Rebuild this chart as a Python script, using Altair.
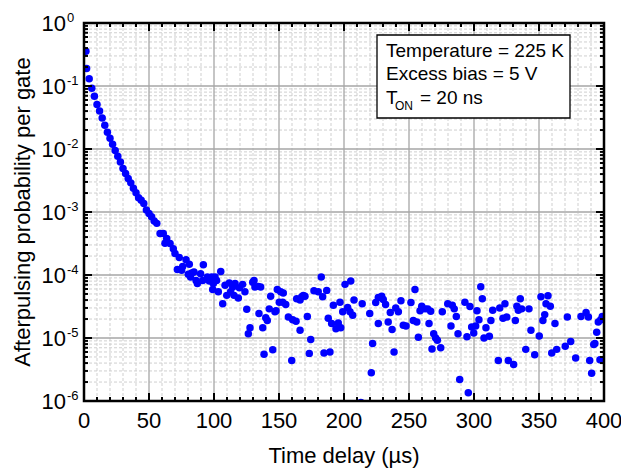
import altair as alt
import pandas as pd

FONT = "Liberation Sans"

# ---- data ----
delay_us = [
    1.5, 2, 4, 6, 8, 10, 12, 14, 16, 18, 20, 22, 24, 26, 28, 30, 32, 34, 36, 38,
    40, 42, 44, 46, 48, 50, 52, 54, 56,
    58.5, 61, 62.3, 63.6, 66.2, 68.7, 70, 71.8, 73.3, 75.1, 75.9, 78.5, 80.2, 81,
    82, 82.8, 84.6, 86.2, 87.2, 89.7, 91.3, 91.8, 94.9, 96.4, 98.2, 99, 99.5,
    100.8, 102, 103.3, 105.2, 106.7, 108.5, 109.8, 111.8, 112.8, 114.4, 115.4,
    116.2, 118.7, 119.5, 122, 123.8, 125.2, 126.4, 127.7, 129.8, 130.8, 131.5,
    134.1, 134.6, 135.9, 137.5, 138.5, 139.8, 141, 142.5, 143.6, 145.2, 146.9,
    147.7, 148.7, 150.2, 151.3, 152.8, 153.3, 155.2, 157.2, 159.8, 160.5, 163.1,
    163.6, 166.2, 166.2, 167.5, 168.7, 170, 171.8, 173.3, 174.4, 176.9, 180.2,
    182.5, 183.6, 184.6, 186.7, 187.9, 189.2, 190.5, 191.8, 193.8, 195.6, 196.9,
    197.5, 199, 200.8, 202.8, 204.6, 205.2, 206.7, 207.7,
    213, 214, 219.8, 222, 221, 224.4, 226.4, 229, 230.2, 232, 226.4, 234, 235.6,
    237, 238.5, 239.8, 241.8, 243.8, 245.6, 247.7, 251.5, 254.6, 253.3, 256,
    257.2, 258.5, 259.8, 262.3, 264.4, 266.7, 265.4, 269, 270.5, 271.8, 267.7,
    274.4, 275.6, 279.8, 283.3, 284.8, 282.3, 286.4, 287.7, 289, 293, 294.6,
    295.6, 296.9, 298.2, 299.8, 301.3, 302.3, 303.8, 305.2, 306.4, 307.7, 309.2,
    311.8, 313, 314.4, 318.7, 319.8, 322.3, 323.8, 325.2, 326.4, 330.5, 331.8,
    333, 334.1, 335.6, 336.7, 339.8, 342.3, 343.8, 346.7, 350.2, 351.5, 353,
    354.4, 355.4, 356.9, 358.7, 359.8, 362.3, 363.6, 370.2, 371.8, 374.4, 378.2,
    382.3, 386.2, 388, 389, 390.5, 392.1, 393, 394.4, 395.6, 397.5, 398.7, 396.9,
]
afterpulse_prob = [
    0.355, 0.19, 0.13, 0.092, 0.069, 0.051, 0.040, 0.031, 0.0238, 0.0184, 0.0148,
    0.0119, 0.0095, 0.0077, 0.0062, 0.0049, 0.0041, 0.0034, 0.0029, 0.00238,
    0.00202, 0.00168, 0.00153, 0.00137, 0.00108, 0.00095, 0.00084, 0.00072, 0.00066,
    4.55e-4, 4.55e-4, 3.2e-4, 3.8e-4, 3.15e-4, 2.6e-4, 2.2e-4, 1.22e-4, 1.9e-4,
    1.19e-4, 1.37e-4, 1.75e-4, 1.03e-4, 1.48e-4, 9.3e-5, 1.08e-4, 1.12e-4, 8.2e-5,
    7.3e-5, 1.05e-4, 8.2e-5, 1.46e-4, 9.3e-5, 8.0e-5, 9.3e-5, 5.9e-5, 7.3e-5,
    9.3e-5, 8.2e-5, 5.4e-5, 1.14e-4, 3.5e-5, 6.9e-5, 4.75e-5, 7.5e-5, 5.4e-5,
    6.45e-5, 4.75e-5, 7.3e-5, 4.3e-5, 6.3e-5, 7.1e-5, 5.4e-5, 2.85e-5, 1.17e-5,
    1.45e-5, 7.7e-5, 8.2e-5, 6.45e-5, 6.6e-5, 2.45e-5, 6.45e-5, 1.46e-5, 5.5e-6,
    2.1e-5, 1.9e-5, 2.9e-5, 4.6e-5, 6.5e-6, 2.6e-5, 2.7e-5, 5.9e-5, 3.7e-5,
    5.4e-5, 3.7e-5, 5.2e-5, 3.4e-5, 2.15e-5, 4.4e-6, 1.95e-5, 1.85e-5, 4.2e-5,
    4.0e-5, 1.33e-5, 4.5e-5, 4.75e-5, 4.6e-5, 2.2e-5, 5.7e-6, 9.5e-6, 5.6e-5,
    5.4e-5, 9.3e-5, 4.5e-5, 5.8e-6, 5.7e-5, 2.05e-5, 6.0e-6, 1.7e-5, 3.3e-5,
    1.4e-5, 1.73e-5, 3.7e-5, 1.46e-5, 2.6e-5, 7.1e-5, 3.05e-5, 2.6e-5, 8.0e-5,
    2.3e-5, 4.0e-5,
    9.5e-7, 3.5e-5, 2.45e-5, 8.2e-6, 2.8e-6, 3.65e-5, 4.4e-5, 4.6e-5, 4.1e-5,
    3.4e-5, 1.7e-5, 1.8e-5, 2.55e-5, 1.37e-5, 6.0e-6, 3.0e-5, 2.6e-5, 3.9e-5,
    1.6e-5, 1.55e-5, 3.65e-5, 5.9e-5, 1.9e-5, 1.8e-5, 1.03e-5, 2.7e-5, 3.2e-5,
    2.9e-5, 2.9e-5, 2.65e-5, 1.7e-5, 1.17e-5, 1.0e-5, 9.2e-6, 6.7e-6, 7.0e-6,
    2.6e-5, 3.5e-5, 3.3e-5, 2.9e-5, 1.55e-5, 2.2e-5, 1.17e-5, 2.2e-6, 3.7e-5,
    1.05e-5, 1.35e-6, 3.15e-5, 1.5e-5, 1.2e-5, 1.55e-5, 2.7e-5, 1.95e-5, 6.5e-5,
    4.2e-5, 1.0e-5, 1.45e-5, 1.07e-5, 1.9e-5, 2.75e-5, 4.4e-6, 3.0e-5, 2.05e-5,
    3.5e-5, 2.15e-5, 4.4e-6, 3.8e-6, 1.9e-5, 3.2e-5, 2.75e-5, 4.2e-5, 2.9e-5,
    6.6e-6, 2.9e-5, 1.33e-5, 5.4e-6, 1.08e-5, 4.5e-5, 1.9e-5, 2.35e-5, 3.5e-5,
    4.7e-5, 3.2e-5, 5.8e-6, 1.7e-5, 6.6e-6, 7.4e-6, 2.15e-5, 8.8e-6, 4.8e-6,
    2.2e-5, 2.55e-5, 2.15e-5, 4.4e-6, 2.75e-6, 7.9e-6, 8.2e-6, 1.23e-5, 1.8e-5,
    1.95e-5, 2.2e-5, 4.5e-6,
]

x_major = [0, 50, 100, 150, 200, 250, 300, 350, 400]
x_minor = [v for v in range(0, 401, 10) if v % 50 != 0]
y_decades = [1, 1e-1, 1e-2, 1e-3, 1e-4, 1e-5, 1e-6]
y_exponents = ["0", "-1", "-2", "-3", "-4", "-5", "-6"]
y_minor = [m * 10.0 ** e for e in range(-6, 0) for m in range(2, 10)]

x_title = "Time delay (µs)"
y_title = "Afterpulsing probability per gate"
info_lines = ["Temperature = 225 K", "Excess bias = 5 V"]

W, H = 520, 378

xs = alt.Scale(domain=[0, 400], nice=False, zero=False)
ys = alt.Scale(type="log", domain=[1e-6, 1], nice=False)

df_pts = pd.DataFrame({"t": delay_us, "p": afterpulse_prob})
df_xmaj = pd.DataFrame({"v": x_major, "lab": [str(v) for v in x_major]})
df_xmin = pd.DataFrame({"v": x_minor})
df_ymaj = pd.DataFrame({"v": y_decades, "e": y_exponents})
df_ymin = pd.DataFrame({"v": y_minor})
one = pd.DataFrame({"a": [0]})


def xe():
    return alt.X("v:Q", scale=xs, axis=None)


def ye():
    return alt.Y("v:Q", scale=ys, axis=None)


minor_style = dict(color="#cfcfcf", strokeDash=[3, 2], strokeWidth=1)
major_style = dict(color="#a6a6a6", strokeWidth=1.3)

gx_min = alt.Chart(df_xmin).mark_rule(**minor_style).encode(
    x=xe(), y=alt.value(0), y2=alt.value(H))
gy_min = alt.Chart(df_ymin).mark_rule(**minor_style).encode(
    y=ye(), x=alt.value(0), x2=alt.value(W))
gx_maj = alt.Chart(df_xmaj).mark_rule(**major_style).encode(
    x=xe(), y=alt.value(0), y2=alt.value(H))
gy_maj = alt.Chart(df_ymaj).mark_rule(**major_style).encode(
    y=ye(), x=alt.value(0), x2=alt.value(W))

points = alt.Chart(df_pts).mark_circle(color="#0000FF", size=56, opacity=1, clip=True).encode(
    x=alt.X("t:Q", scale=xs, axis=None),
    y=alt.Y("p:Q", scale=ys, axis=None),
)

tick_style = dict(color="black", strokeWidth=2)
ticks = [
    alt.Chart(df_xmaj).mark_rule(**tick_style).encode(x=xe(), y=alt.value(H), y2=alt.value(H - 8)),
    alt.Chart(df_xmaj).mark_rule(**tick_style).encode(x=xe(), y=alt.value(0), y2=alt.value(8)),
    alt.Chart(df_xmin).mark_rule(**tick_style).encode(x=xe(), y=alt.value(H), y2=alt.value(H - 4)),
    alt.Chart(df_xmin).mark_rule(**tick_style).encode(x=xe(), y=alt.value(0), y2=alt.value(4)),
    alt.Chart(df_ymaj).mark_rule(**tick_style).encode(y=ye(), x=alt.value(0), x2=alt.value(8)),
    alt.Chart(df_ymaj).mark_rule(**tick_style).encode(y=ye(), x=alt.value(W), x2=alt.value(W - 8)),
    alt.Chart(df_ymin).mark_rule(**tick_style).encode(y=ye(), x=alt.value(0), x2=alt.value(4)),
    alt.Chart(df_ymin).mark_rule(**tick_style).encode(y=ye(), x=alt.value(W), x2=alt.value(W - 4)),
]

frame = alt.Chart(one).mark_rect(filled=False, stroke="black", strokeWidth=2.5).encode(
    x=alt.value(0), x2=alt.value(W), y=alt.value(0), y2=alt.value(H))

xlab = alt.Chart(df_xmaj).mark_text(
    font=FONT, fontSize=22, align="center", baseline="alphabetic", color="black"
).encode(x=xe(), y=alt.value(H + 27), text="lab:N")

xtitle = alt.Chart(one).mark_text(
    text=x_title, font=FONT, fontSize=22, align="center", baseline="alphabetic", color="black"
).encode(x=alt.value(W / 2), y=alt.value(H + 62))

ylab_base = alt.Chart(df_ymaj).mark_text(
    text="10", font=FONT, fontSize=22, align="right", baseline="alphabetic", dy=8, color="black"
).encode(y=ye(), x=alt.value(-18))
ylab_exp = alt.Chart(df_ymaj).mark_text(
    font=FONT, fontSize=13, align="left", baseline="alphabetic", dy=-1, color="black"
).encode(y=ye(), x=alt.value(-17), text="e:N")

ytitle = alt.Chart(one).mark_text(
    text=y_title, font=FONT, fontSize=22, angle=270,
    align="center", baseline="alphabetic", color="black"
).encode(x=alt.value(-54), y=alt.value(H / 2))

box = alt.Chart(one).mark_rect(fill="white", stroke="black", strokeWidth=1.3).encode(
    x=alt.value(293), x2=alt.value(486), y=alt.value(12), y2=alt.value(95))

txt_style = dict(font=FONT, fontSize=19, align="left", baseline="alphabetic", color="black")
box_texts = [
    alt.Chart(one).mark_text(text=info_lines[0], **txt_style).encode(x=alt.value(302), y=alt.value(34)),
    alt.Chart(one).mark_text(text=info_lines[1], **txt_style).encode(x=alt.value(302), y=alt.value(57)),
    alt.Chart(one).mark_text(text="T", **txt_style).encode(x=alt.value(302), y=alt.value(80.5)),
    alt.Chart(one).mark_text(text="ON", font=FONT, fontSize=12, align="left",
                             baseline="alphabetic", color="black").encode(x=alt.value(311), y=alt.value(87)),
    alt.Chart(one).mark_text(text="= 20 ns", **txt_style).encode(x=alt.value(336), y=alt.value(80.5)),
]

chart = alt.layer(
    gx_min, gy_min, gx_maj, gy_maj, points, *ticks, frame,
    xlab, xtitle, ylab_base, ylab_exp, ytitle, box, *box_texts
).properties(
    width=W, height=H,
    padding={"left": 84, "top": 23, "right": 17, "bottom": 69},
    autosize=alt.AutoSizeParams(type="none"),
).configure_view(stroke=None)

chart.save("out.html", embed_options={"renderer": "svg", "actions": False})
